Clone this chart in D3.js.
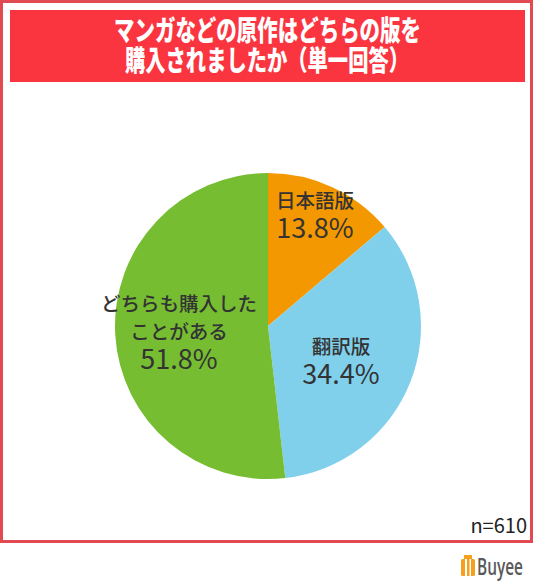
<!DOCTYPE html>
<html><head><meta charset="utf-8">
<script src="https://cdn.jsdelivr.net/npm/d3@7"></script>
<style>body{margin:0;background:#fff}svg{display:block}</style>
</head><body>
<script>
const titleLines = ["マンガなどの原作はどちらの版を", "購入されましたか（単一回答）"];
const categories = ["日本語版", "翻訳版", "どちらも購入したことがある"];
const labelLines = [["日本語版"], ["翻訳版"], ["どちらも購入した", "ことがある"]];
const values = [13.8, 34.4, 51.8];
const colors = ["#F39800", "#80D0EC", "#76BD31"];
const sampleNote = "n=610";

const W = 536, H = 588;
const svg = d3.select("body").append("svg").attr("width", W).attr("height", H);
const font = "'Noto Sans CJK JP', 'Noto Sans', sans-serif";

svg.append("rect").attr("x", 1.5).attr("y", 1.5).attr("width", 530).attr("height", 540)
  .attr("fill", "none").attr("stroke", "#E04A50").attr("stroke-width", 3);
svg.append("rect").attr("x", 10).attr("y", 10).attr("width", 515).attr("height", 72).attr("fill", "#FB3540");

const tl = [{t: titleLines[0], y: 41, w: 307, x: 114}, {t: titleLines[1], y: 71, w: 284, x: 125}];
svg.selectAll("text.title").data(tl).join("text").attr("class", "title")
  .attr("x", d => d.x).attr("y", d => d.y)
  .attr("textLength", d => d.w).attr("lengthAdjust", "spacingAndGlyphs")
  .attr("font-family", font).attr("font-weight", 900).attr("font-size", 28).attr("fill", "#fff")
  .text(d => d.t);

const cx = 268, cy = 326, r = 153;
const pie = d3.pie().sort(null).value(d => d)(values);
const arc = d3.arc().innerRadius(0).outerRadius(r);
const g = svg.append("g").attr("transform", `translate(${cx},${cy})`);
g.selectAll("path").data(pie).join("path").attr("d", arc)
  .attr("fill", (d, i) => colors[i]);

const labelPos = [{x: 315, y: 208}, {x: 341, y: 354}, {x: 179, y: 311}];
pie.forEach((d, i) => {
  const p = labelPos[i];
  const t = svg.append("text").attr("text-anchor", "middle").attr("font-family", font).attr("fill", "#333");
  labelLines[i].forEach((line, j) => {
    t.append("tspan").attr("x", p.x).attr("y", p.y + j * 28).attr("font-size", 19.5).attr("font-weight", 500).text(line);
  });
  t.append("tspan").attr("x", p.x).attr("y", p.y + (labelLines[i].length - 1) * 28 + 30)
    .attr("font-size", 27).attr("font-weight", 400).text(values[i].toFixed(1) + "%");
});

svg.append("text").attr("x", 527).attr("y", 533).attr("text-anchor", "end")
  .attr("font-family", font).attr("font-size", 20).attr("fill", "#222").text(sampleNote);

// Buyee logo
const lg = svg.append("g").attr("transform", "translate(461,555)");
lg.append("rect").attr("x", 0).attr("y", 4).attr("width", 14).attr("height", 17).attr("rx", 1.5).attr("fill", "#F5A01E");
lg.append("rect").attr("x", 3).attr("y", 0).attr("width", 8).attr("height", 5).attr("fill", "#F5A01E");
lg.append("rect").attr("x", 4).attr("y", 4).attr("width", 2).attr("height", 17).attr("fill", "#fff");
lg.append("rect").attr("x", 8.5).attr("y", 4).attr("width", 1.5).attr("height", 17).attr("fill", "#fff");
svg.append("text").attr("x", 477).attr("y", 575).attr("font-family", "'Open Sans', sans-serif")
  .attr("font-size", 23).attr("font-weight", 600).attr("fill", "#5a5a5a").attr("textLength", 46).attr("lengthAdjust", "spacingAndGlyphs").text("Buyee");
</script>
</body></html>
